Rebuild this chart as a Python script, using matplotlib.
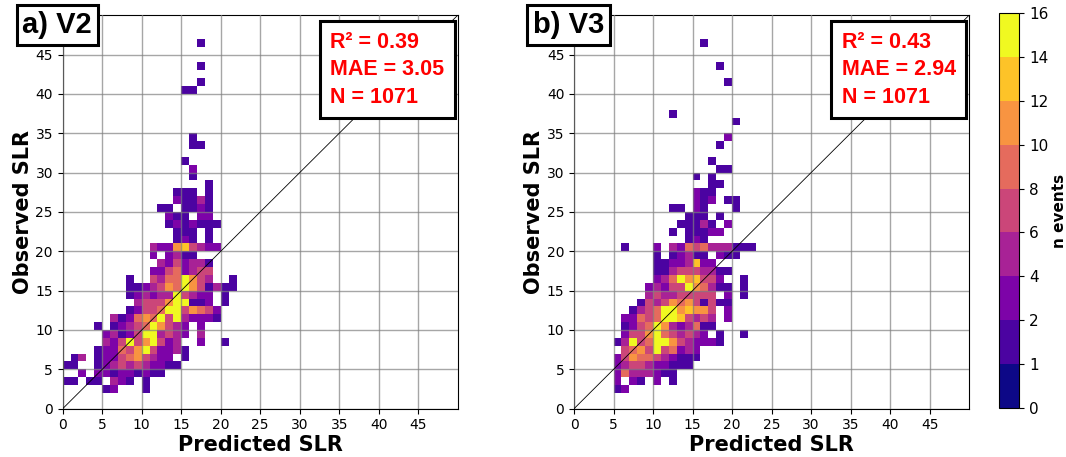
import numpy as np
import matplotlib
matplotlib.use("Agg")
import matplotlib.pyplot as plt
from matplotlib.colors import BoundaryNorm

# 2D histogram counts, 1-unit bins. one string per observed-SLR row (0, 1, 2 ...),
# one char per predicted-SLR column, count in base 36, '.' = no events
v2_rows = [
    "........................",
    "........................",
    ".....13...1.............",
    "11.11.531.1.............",
    "..3.331331311...........",
    "11..13575753311.........",
    ".15.13379b7533.1........",
    "....13397bf73351........",
    ".....537f7bf735..3..1...",
    ".....35137ff5753.5......",
    "....1.13579fb753.3......",
    "......5139b9f7f53331....",
    "........13779ff7b973....",
    ".........5777bff113.1...",
    "........135355f7533.1...",
    "........11357b9fb71511..",
    "........1..7599fb75..1..",
    "...........33793577.....",
    "............5373551.....",
    "...........3.3511.......",
    "...........533bd7533....",
    "..............131.1.....",
    "..............111.1.....",
    ".............1313111....",
    ".............311.33.....",
    "............11.1131.....",
    "..............31151.....",
    "..............111.1.....",
    "..................1.....",
    "................1.......",
    "................3.......",
    "...............1........",
    "........................",
    "................11......",
    "................1.......",
    "........................",
    "........................",
    "........................",
    "........................",
    "........................",
    "...............11.......",
    ".................1......",
    "........................",
    ".................1......",
    "........................",
    "........................",
    ".................1......",
    "........................",
]

v3_rows = [
    "........................",
    "........................",
    ".....13.................",
    ".....3.31.3.1...........",
    ".....39555311...........",
    ".....3577533111.........",
    ".....37b99753111........",
    "......79b7f79353........",
    ".....15f79ffb753331.....",
    "......377bf975753.1..1..",
    "......1379fb535911......",
    "......33979ffd7575.3....",
    ".......1579ffbdbb7.3....",
    "........1757b9b71711....",
    ".........575577777.3.1..",
    ".........35377fb9511.1..",
    "..........359fbd773..1..",
    "..........1157775511....",
    "..........11335d33......",
    "..........1.13511.311...",
    "......1...3.53979555111.",
    "..............131.......",
    "............1.11133.....",
    ".............11151.3....",
    "..............111.1.....",
    "............11.31...1...",
    "...............313.11...",
    "...............311......",
    ".................11.....",
    "...............1.1......",
    "..................11....",
    ".................1......",
    "........................",
    "..................1.....",
    "...................3....",
    "........................",
    "....................1...",
    "............1...........",
    "........................",
    "........................",
    "........................",
    "...................1....",
    "........................",
    "..................1.....",
    "........................",
    "........................",
    "................1.......",
    "........................",
]

panel_labels = ["a) V2", "b) V3"]
r2_values = [0.39, 0.43]
mae_values = [3.05, 2.94]
n_values = [1071, 1071]
levels = [0, 1, 2, 4, 6, 8, 10, 12, 14, 16]
ticks = list(range(0, 50, 5))


def to_grid(rows):
    g = np.zeros((50, 50))
    for j, r in enumerate(rows):
        for i, ch in enumerate(r):
            if ch != '.':
                g[j, i] = int(ch, 36)
    return np.ma.masked_equal(g, 0)


fig = plt.figure(figsize=(10.66, 4.57), dpi=100)
norm = BoundaryNorm(levels, 256)
edges = np.arange(0, 51)

positions = [[0.0588, 0.1057, 0.3706, 0.861], [0.5385, 0.1057, 0.3706, 0.861]]
for k, rows in enumerate([v2_rows, v3_rows]):
    ax = fig.add_axes(positions[k])
    grid = to_grid(rows)
    mesh = ax.pcolormesh(edges, edges, grid, cmap='plasma', norm=norm, zorder=1)
    ax.plot([0, 50], [0, 50], color='black', lw=0.6, zorder=3)
    ax.set_xlim(0, 50)
    ax.set_ylim(0, 50)
    ax.set_xticks(ticks)
    ax.set_yticks(ticks)
    ax.tick_params(labelsize=10)
    ax.grid(True, color='gray', lw=1.0, alpha=0.7, zorder=2)
    ax.set_axisbelow(False)
    ax.set_xlabel('Predicted SLR', fontsize=15, fontweight='bold', labelpad=2)
    ax.set_ylabel('Observed SLR', fontsize=15, fontweight='bold', labelpad=2)

    ax.text(-0.014, 0.975, panel_labels[k], transform=ax.transAxes, ha='center', va='center',
            fontsize=21, fontweight='bold', family='Liberation Sans', zorder=10,
            bbox=dict(boxstyle='square,pad=0.2', fc='white', ec='black', lw=2.2))
    stats = 'R² = %.2f\nMAE = %.2f\nN = %d' % (r2_values[k], mae_values[k], n_values[k])
    ax.text(0.9666, 0.9586, stats, transform=ax.transAxes, ha='right', va='top',
            multialignment='left', fontsize=15.5, fontweight='bold', color='red',
            family='Liberation Sans', linespacing=1.42, zorder=10,
            bbox=dict(boxstyle='square,pad=0.48', fc='white', ec='black', lw=2.2))

cax = fig.add_axes([0.9368, 0.1066, 0.0193, 0.8656])
cbar = fig.colorbar(mesh, cax=cax, ticks=levels, spacing='uniform')
cbar.ax.tick_params(labelsize=11)
cbar.set_label('n events', fontsize=11, fontweight='bold', labelpad=3)

fig.savefig('out.png', dpi=100)
